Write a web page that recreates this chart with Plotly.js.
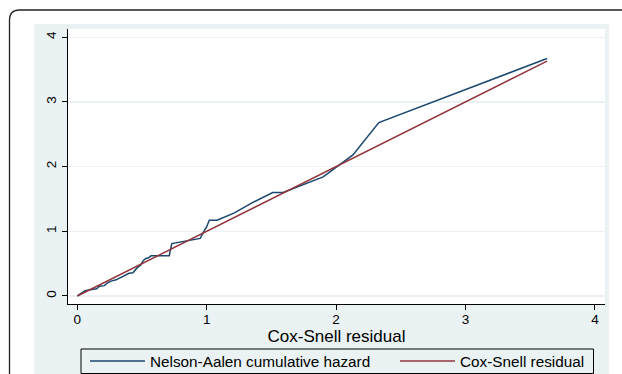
<!DOCTYPE html>
<html>
<head>
<meta charset="utf-8">
<script src="https://cdn.plot.ly/plotly-3.0.1.min.js"></script>
<style>
  html, body { margin: 0; padding: 0; background: #ffffff; }
  #chart { width: 622px; height: 374px; }
</style>
</head>
<body>
<div id="chart"></div>
<script>
// Nelson-Aalen cumulative hazard vs Cox-Snell residual
var naX = [0, 0.06, 0.11, 0.15, 0.17, 0.21, 0.23, 0.26, 0.30, 0.33, 0.37, 0.40, 0.43, 0.46, 0.49, 0.51, 0.53, 0.55, 0.57, 0.71, 0.73, 0.93, 0.95, 0.97, 1.00, 1.02, 1.08, 1.21, 1.35, 1.51, 1.59, 1.90, 2.00, 2.13, 2.33, 3.63];
var naY = [0, 0.08, 0.10, 0.11, 0.15, 0.16, 0.20, 0.23, 0.25, 0.28, 0.33, 0.35, 0.36, 0.43, 0.48, 0.55, 0.58, 0.59, 0.62, 0.62, 0.81, 0.88, 0.89, 0.97, 1.07, 1.17, 1.17, 1.28, 1.44, 1.60, 1.60, 1.84, 1.99, 2.18, 2.68, 3.67];
// Reference line: Cox-Snell residual against itself
var csX = [0, 3.63];
var csY = [0, 3.63];
var xTicks = [0, 1, 2, 3, 4];
var yTicks = [0, 1, 2, 3, 4];
var seriesNames = ["Nelson-Aalen cumulative hazard", "Cox-Snell residual"];
var xTitle = "Cox-Snell residual";

var W = 622, H = 374;
var M = {l: 68, r: 17, t: 29, b: 70, autoexpand: false};
var PW = W - M.l - M.r, PH = H - M.t - M.b;
function fx(px) { return (px - M.l) / PW; }
function fy(py) { return (H - M.b - py) / PH; }

var bg = "#eaf2f3";
var navy = "#1a476f";
var maroon = "#90353b";
var font = "Liberation Sans, Arial, sans-serif";

var traces = [
  {x: naX, y: naY, type: "scatter", mode: "lines", name: seriesNames[0],
   line: {color: navy, width: 1.5}, legend: "legend", hoverinfo: "skip"},
  {x: csX, y: csY, type: "scatter", mode: "lines", name: seriesNames[1],
   line: {color: maroon, width: 1.5}, legend: "legend2", hoverinfo: "skip"}
];

var framePath = "M" + fx(9.5) + "," + fy(374) + " L" + fx(9.5) + "," + fy(20) +
  " Q" + fx(9.5) + "," + fy(10) + " " + fx(19.5) + "," + fy(10) +
  " L" + fx(622) + "," + fy(10);

var legendCommon = {
  orientation: "h", xanchor: "left", yanchor: "middle",
  font: {family: font, size: 15.3, color: "#000"},
  bgcolor: "rgba(0,0,0,0)", borderwidth: 0, itemwidth: 55,
  itemclick: false, itemdoubleclick: false
};

var layout = {
  width: W, height: H,
  margin: M,
  paper_bgcolor: "#ffffff",
  plot_bgcolor: "#ffffff",
  showlegend: true,
  font: {family: font, color: "#000"},
  xaxis: {
    range: [-0.072, 4.078], tickvals: xTicks, ticktext: xTicks.map(String),
    showgrid: false, zeroline: false,
    showline: true, linecolor: "#000", linewidth: 1.2, mirror: false,
    ticks: "outside", ticklen: 5, tickwidth: 1, tickcolor: "#000",
    ticklabelstandoff: -2,
    tickfont: {family: font, size: 13.5, color: "#000"},
    title: {text: xTitle, font: {family: font, size: 17, color: "#000"}, standoff: 2},
    fixedrange: true
  },
  yaxis: {
    range: [-0.124, 4.127], tickvals: yTicks, ticktext: yTicks.map(String),
    showgrid: true, gridcolor: bg, gridwidth: 1.3, zeroline: false,
    showline: true, linecolor: "#000", linewidth: 1.2,
    ticks: "outside", ticklen: 5, tickwidth: 1, tickcolor: "#000",
    tickangle: -90,
    tickfont: {family: font, size: 13.5, color: "#000"},
    fixedrange: true
  },
  legend: Object.assign({}, legendCommon, {x: fx(85), y: fy(361)}),
  legend2: Object.assign({}, legendCommon, {x: fx(395), y: fy(361)}),
  shapes: [
    {type: "rect", xref: "paper", yref: "paper", layer: "below",
     x0: fx(34), x1: fx(609), y0: fy(374), y1: fy(24),
     fillcolor: bg, line: {width: 0}},
    {type: "rect", xref: "paper", yref: "paper", layer: "below",
     x0: fx(68), x1: fx(605), y0: fy(304), y1: fy(29),
     fillcolor: "#ffffff", line: {width: 0}},
    {type: "path", xref: "paper", yref: "paper", layer: "above",
     path: framePath, line: {color: "#222", width: 1.3}},
    {type: "rect", xref: "paper", yref: "paper", layer: "above",
     x0: fx(81), x1: fx(593.5), y0: fy(373.5), y1: fy(349),
     fillcolor: "rgba(0,0,0,0)", line: {color: "#000", width: 1}}
  ]
};

Plotly.newPlot("chart", traces, layout, {staticPlot: true, displayModeBar: false});
</script>
</body>
</html>
